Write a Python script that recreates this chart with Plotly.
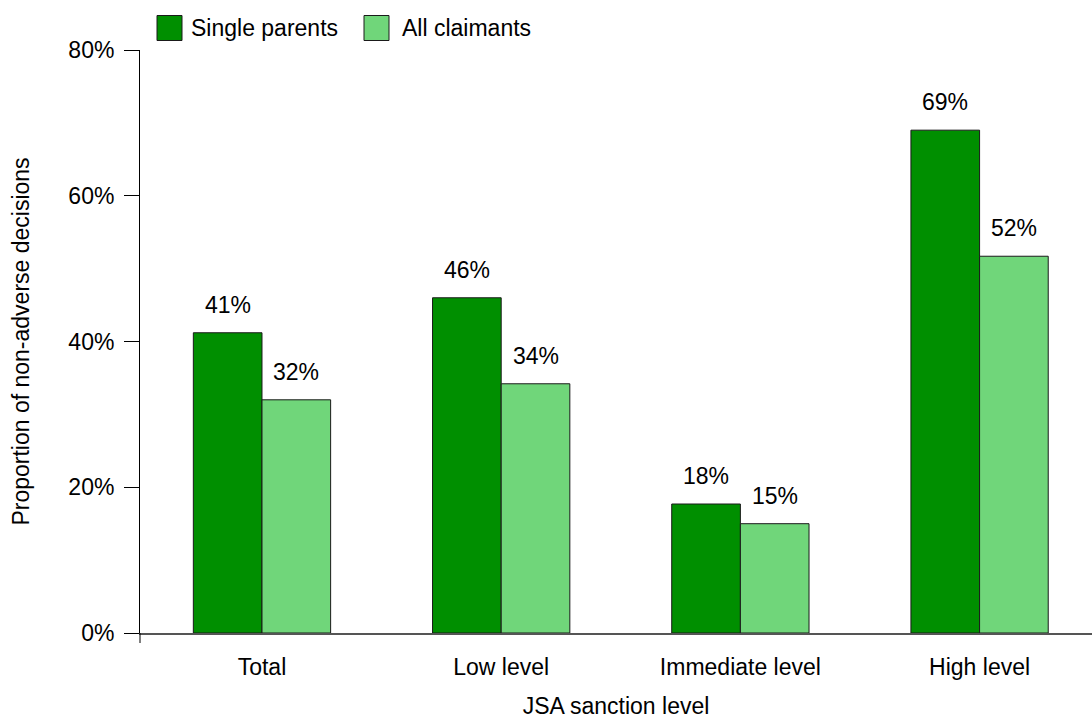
import plotly.graph_objects as go

categories = ["Total", "Low level", "Immediate level", "High level"]
series_names = ["Single parents", "All claimants"]
single_parents = [41.2, 46.0, 17.7, 69.0]
all_claimants = [32.0, 34.2, 15.0, 51.7]
y_ticks = [0, 20, 40, 60, 80]
y_tick_labels = ["0%", "20%", "40%", "60%", "80%"]

colors = ["#008f00", "#70d67a"]
FONT = "Liberation Sans, Arial, sans-serif"
FS = 23

fig = go.Figure()
series = [single_parents, all_claimants]
for name, vals, col in zip(series_names, series, colors):
    fig.add_trace(go.Bar(
        x=categories, y=vals, name=name,
        marker=dict(color=col, line=dict(color="#1a1a1a", width=1)),
        showlegend=False,
    ))

bargap = 0.426
group_w = 1 - bargap
bar_w = group_w / 2
annotations = []
for si, vals in enumerate(series):
    off = -group_w / 2 + bar_w * (si + 0.5)
    for ci, v in enumerate(vals):
        annotations.append(dict(
            x=ci + off, y=v, xref="x", yref="y", text=f"{round(v)}%",
            showarrow=False, yanchor="bottom", yshift=13,
            font=dict(family=FONT, size=FS, color="#000"),
        ))

# custom legend
shapes = []
leg_x = [157, 364]
leg_text_x = [189, 400]
for i, (name, col) in enumerate(zip(series_names, colors)):
    shapes.append(dict(type="rect", xref="paper", yref="paper",
                       x0=(leg_x[i] - 140) / 952, x1=(leg_x[i] + 25 - 140) / 952,
                       y0=(633 - 40.5) / 583, y1=(633 - 15.5) / 583,
                       fillcolor=col, line=dict(color="#1a1a1a", width=1)))
    annotations.append(dict(
        x=(leg_text_x[i] - 140) / 952, y=(633 - 28) / 583, xref="paper", yref="paper",
        text=name, showarrow=False, xanchor="left", yanchor="middle",
        font=dict(family=FONT, size=FS, color="#000"),
    ))

# small tick below the axis corner
shapes.append(dict(type="line", xref="paper", yref="paper", x0=0, x1=0,
                   y0=0, y1=-10 / 583, line=dict(color="#000", width=1)))

fig.update_layout(
    width=1092, height=719,
    margin=dict(l=140, r=0, t=50, b=86),
    plot_bgcolor="white", paper_bgcolor="white",
    barmode="group", bargap=bargap, bargroupgap=0,
    font=dict(family=FONT, size=FS, color="#000"),
    annotations=annotations, shapes=shapes,
    xaxis=dict(
        range=[-0.51, 3.47], showline=True, linecolor="#555", linewidth=1.5,
        ticks="", ticklabelstandoff=13, showgrid=False,
        title=dict(text="JSA sanction level", standoff=22,
                   font=dict(family=FONT, size=FS)),
        tickfont=dict(family=FONT, size=FS),
    ),
    yaxis=dict(
        range=[0, 80], tickvals=y_ticks, ticktext=y_tick_labels,
        showline=True, linecolor="#000", linewidth=1,
        ticks="outside", ticklen=15, tickcolor="#000",
        ticklabelstandoff=5, showgrid=False, zeroline=False,
        title=dict(text="Proportion of non-adverse decisions", standoff=32,
                   font=dict(family=FONT, size=FS)),
        tickfont=dict(family=FONT, size=FS),
    ),
)

fig.write_html("out.html")
